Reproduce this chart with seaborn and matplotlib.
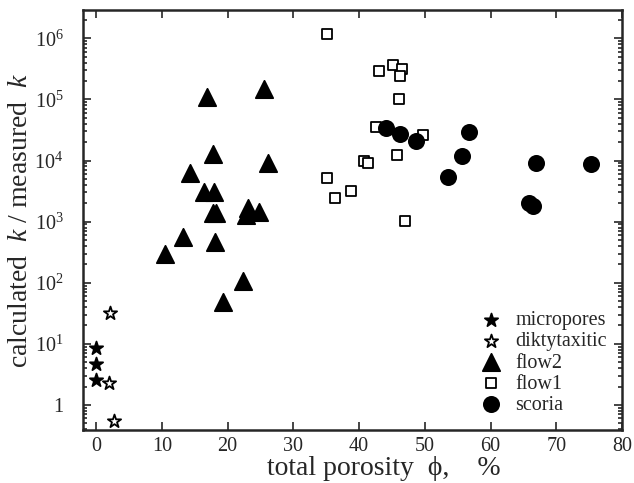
import numpy as np
import pandas as pd
import matplotlib
matplotlib.use("Agg")
import matplotlib.pyplot as plt
import matplotlib.ticker as mticker
import seaborn as sns

# ---- data ----
micro_x = [0.0, 0.0, 0.0]
micro_y = [8.5, 4.6, 2.57]

dikty_x = [2.1, 2.0, 2.7]
dikty_y = [31.7, 2.27, 0.55]

flow2_x = [16.8, 25.5, 17.7, 14.2, 26.2, 16.4, 17.9, 17.8, 18.3, 23.1, 22.8, 24.8,
           13.2, 18.1, 10.4, 22.3, 19.3]
flow2_y = [1.11e5, 1.47e5, 1.3e4, 6.2e3, 9.0e3, 3.1e3, 3.1e3, 1.4e3, 1.4e3, 1.7e3,
           1.29e3, 1.42e3, 5.5e2, 4.7e2, 3.0e2, 1.05e2, 49]

flow1_x = [35.1, 35.15, 36.4, 38.8, 43.1, 45.2, 46.6, 46.2, 46.1, 42.5, 49.7, 40.8,
           41.4, 45.8, 47.05]
flow1_y = [1.18e6, 5.25e3, 2.46e3, 3.2e3, 2.96e5, 3.6e5, 3.2e5, 2.4e5, 1.0e5, 3.5e4,
           2.6e4, 9.8e3, 9.0e3, 1.24e4, 1.02e3]

scoria_x = [44.1, 46.3, 48.7, 56.7, 55.6, 53.5, 66.9, 75.3, 65.9, 66.5]
scoria_y = [3.46e4, 2.7e4, 2.1e4, 2.96e4, 1.2e4, 5.3e3, 9.0e3, 8.8e3, 2.05e3, 1.8e3]

labels = ["micropores", "diktytaxitic", "flow2", "flow1", "scoria"]
x_ticks = [0, 10, 20, 30, 40, 50, 60, 70, 80]
y_ticks = [1, 1e1, 1e2, 1e3, 1e4, 1e5, 1e6]

sns.set_theme(style="ticks")
plt.rcParams['font.family'] = ['Liberation Serif', 'DejaVu Serif']
plt.rcParams['mathtext.fontset'] = 'custom'
plt.rcParams['mathtext.rm'] = 'Liberation Serif'
plt.rcParams['mathtext.it'] = 'Liberation Serif:italic'

fig = plt.figure(figsize=(6.34, 4.83), dpi=100)
ax = fig.add_axes([0.131, 0.110, 0.850, 0.869])

groups = [
    (micro_x, micro_y, "*", "black", 100),
    (dikty_x, dikty_y, "*", "white", 100),
    (flow2_x, flow2_y, "^", "black", 155),
    (flow1_x, flow1_y, "s", "white", 48),
    (scoria_x, scoria_y, "o", "black", 120),
]
for (xs, ys, m, fc, s), lab in zip(groups, labels):
    df = pd.DataFrame({"x": xs, "y": ys})
    sns.scatterplot(data=df, x="x", y="y", marker=m, s=s, color=fc,
                    edgecolor="black", linewidth=1.3, ax=ax, label=lab, zorder=3)

ax.set_yscale("log")
ax.set_xlim(-2, 80)
ax.set_ylim(0.39, 2.9e6)
ax.set_xticks(x_ticks)
ax.set_yticks(y_ticks)
ax.set_yticklabels(["1"] + [f"$10^{{{i}}}$" for i in range(1, 7)])
ax.yaxis.set_minor_locator(mticker.LogLocator(base=10, subs=np.arange(2, 10), numticks=20))
ax.yaxis.set_minor_formatter(mticker.NullFormatter())
ax.xaxis.set_minor_locator(mticker.NullLocator())
ax.tick_params(which="both", direction="in", top=True, right=True, labelsize=14.5, width=1.2)
ax.tick_params(which="major", length=6)
ax.tick_params(which="minor", length=3)
ax.tick_params(axis="y", which="major", pad=14)
ax.tick_params(axis="x", which="major", pad=5)
for sp in ax.spines.values():
    sp.set_linewidth(1.8)

ax.set_xlabel("total porosity  \u03d5,    %", fontsize=20, labelpad=0, x=0.558)
ax.set_ylabel("calculated  $k$ / measured  $k$", fontsize=20, labelpad=1)

leg = ax.legend(loc="lower right", frameon=False, fontsize=14.5, handletextpad=0.2,
                labelspacing=0.1, borderaxespad=0.35, markerscale=1.0)

fig.savefig("out.png", dpi=100)
